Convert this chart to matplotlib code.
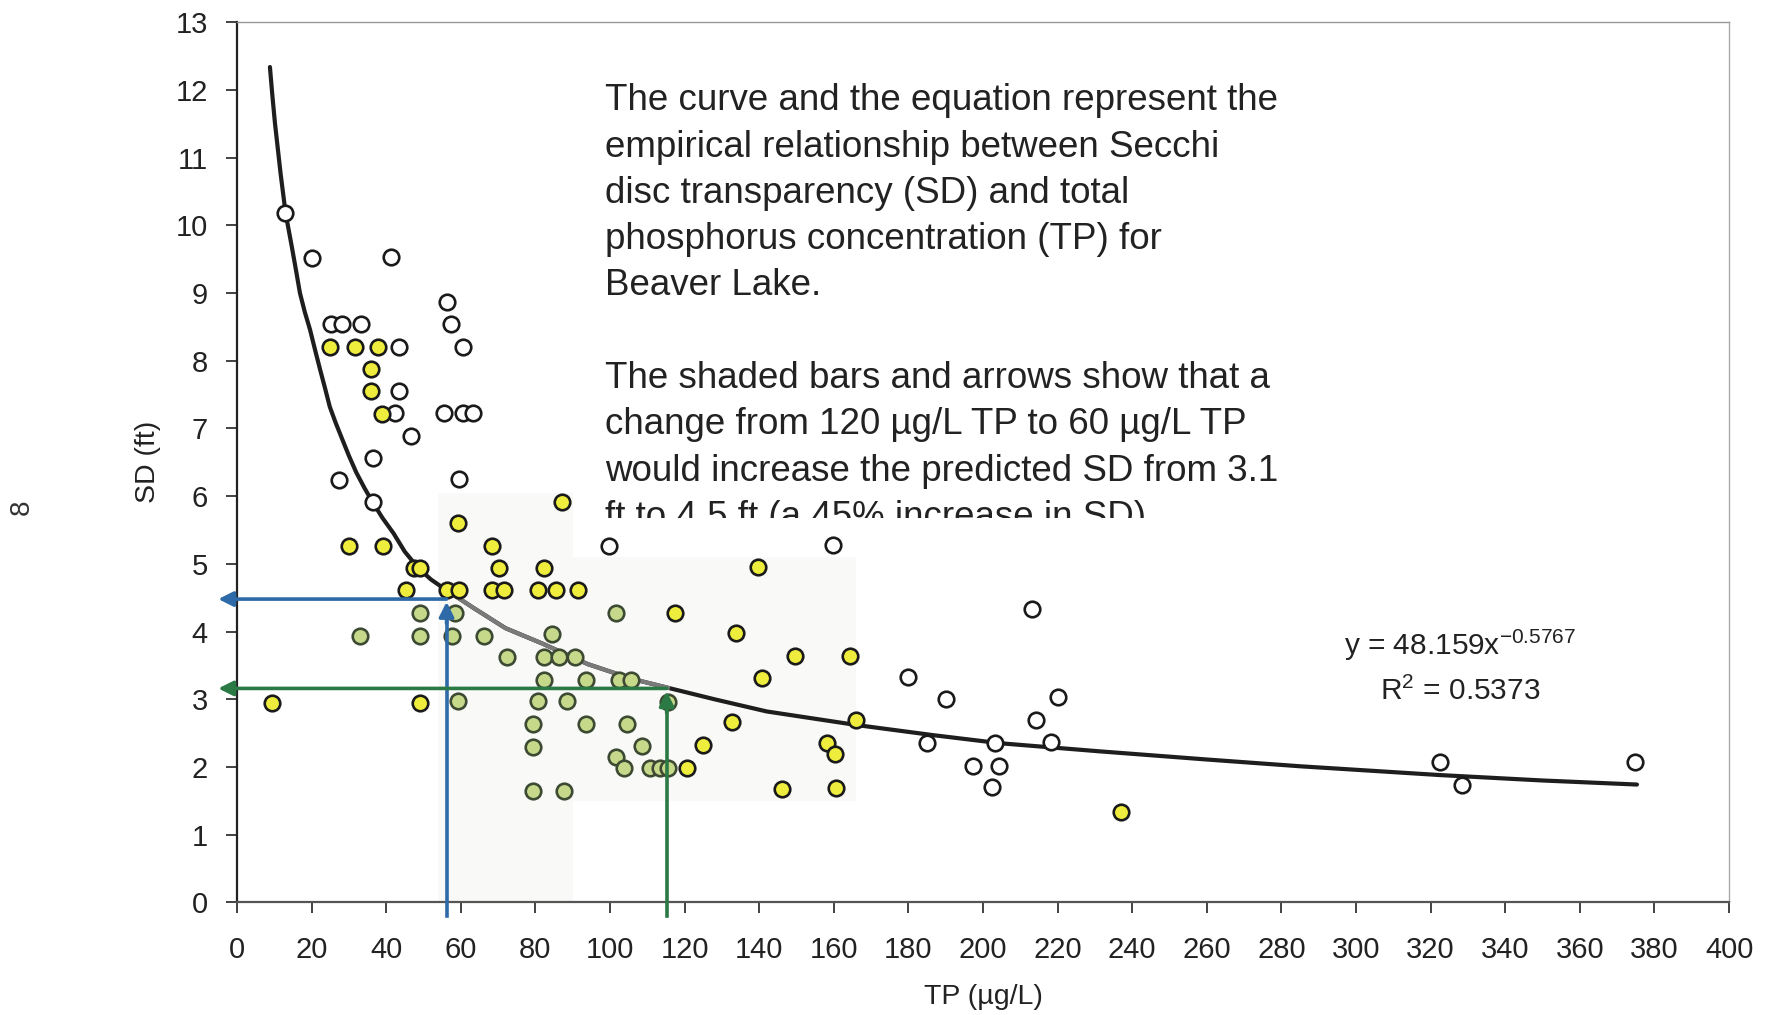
import numpy as np
import matplotlib.pyplot as plt
from matplotlib.patches import Rectangle

plt.rcParams['font.family'] = ['Liberation Sans', 'DejaVu Sans']

# open circles (white fill)
open_tp = [13.0, 20.1, 41.2, 56.2, 57.3, 25.2, 28.1, 33.2, 43.4, 60.5, 43.4, 42.4, 55.5, 60.5,
           63.4, 46.6, 36.4, 27.4, 59.5, 36.4, 99.7, 159.9, 180.0, 185.0, 213.0, 190.1, 220.2,
           214.1, 203.2, 218.2, 197.2, 204.3, 202.3, 322.5, 328.5, 374.8]
open_sd = [10.18, 9.52, 9.53, 8.87, 8.55, 8.55, 8.55, 8.55, 8.21, 8.21, 7.56, 7.23, 7.23, 7.23,
           7.23, 6.89, 6.57, 6.24, 6.25, 5.91, 5.27, 5.28, 3.33, 2.35, 4.34, 3.01, 3.03,
           2.69, 2.36, 2.37, 2.02, 2.02, 1.70, 2.07, 1.74, 2.07]

# yellow filled circles
yel_tp = [25.0, 31.6, 37.9, 35.9, 35.9, 39.0, 87.2, 59.3, 30.1, 39.1, 68.4, 47.5, 49.0, 70.3,
          82.4, 45.2, 56.2, 59.6, 68.5, 71.6, 80.8, 85.5, 91.5, 9.3, 49.1, 139.8, 117.4, 133.7,
          149.6, 164.3, 140.7, 132.8, 165.9, 124.9, 158.1, 160.2, 120.6, 146.0, 160.7, 236.9]
yel_sd = [8.21, 8.21, 8.21, 7.88, 7.55, 7.21, 5.92, 5.60, 5.26, 5.26, 5.27, 4.94, 4.94, 4.94,
          4.94, 4.61, 4.61, 4.61, 4.61, 4.61, 4.61, 4.61, 4.61, 2.95, 2.95, 4.96, 4.28, 3.98,
          3.64, 3.64, 3.31, 2.66, 2.70, 2.33, 2.35, 2.19, 1.98, 1.67, 1.69, 1.34]

# pale green circles (under the shaded bar)
grn_tp = [49.1, 58.4, 101.5, 33.0, 49.1, 57.7, 66.3, 84.5, 72.3, 82.3, 86.4, 90.6, 82.3, 93.5,
          102.4, 105.6, 59.2, 80.6, 88.6, 115.5, 79.4, 93.5, 104.6, 79.4, 108.7, 101.6, 103.8,
          110.7, 113.4, 115.5, 79.4, 87.7]
grn_sd = [4.27, 4.27, 4.28, 3.94, 3.94, 3.94, 3.94, 3.96, 3.62, 3.62, 3.62, 3.62, 3.29, 3.29,
          3.29, 3.29, 2.97, 2.97, 2.97, 2.96, 2.63, 2.63, 2.63, 2.30, 2.31, 2.15, 1.99,
          1.99, 1.99, 1.99, 1.65, 1.65]

# trend curve
curve_tp = [8.85, 9.5, 10.2, 11.7, 13.05, 14.7, 15.8, 16.9, 18.2, 19.6, 21.0, 22.3, 23.6, 24.9,
            26.5, 28.1, 30.0, 32.0, 34.2, 36.4, 39.0, 42.0, 45.0, 48.6, 52.0, 56.2, 63.4, 72.0,
            82.0, 94.0, 106.0, 115.5, 128.0, 142.0, 166.0, 186.6, 204.6, 231.4, 260.0, 285.0,
            322.5, 350.0, 375.3]
curve_sd = [12.34, 11.92, 11.51, 10.77, 10.18, 9.69, 9.35, 9.0, 8.72, 8.46, 8.15, 7.87, 7.6, 7.32,
            7.08, 6.86, 6.6, 6.35, 6.12, 5.91, 5.68, 5.45, 5.18, 4.94, 4.77, 4.61, 4.35, 4.05,
            3.82, 3.52, 3.30, 3.17, 3.0, 2.82, 2.62, 2.47, 2.35, 2.23, 2.11, 2.01,
            1.88, 1.80, 1.74]

# arrows: TP where the vertical rises, SD where the horizontal runs
arrow_tp = [56.2, 115.2]
arrow_sd = [4.48, 3.16]
arrow_col = ['#2f6aa8', '#2b7a45']

note = ["The curve and the equation represent the",
        "empirical relationship between Secchi",
        "disc transparency (SD) and total",
        "phosphorus concentration (TP) for",
        "Beaver Lake.",
        "",
        "The shaded bars and arrows show that a",
        "change from 120 \u00b5g/L TP to 60 \u00b5g/L TP",
        "would increase the predicted SD from 3.1",
        "ft to 4.5 ft (a 45% increase in SD)."]

fig = plt.figure(figsize=(17.68, 10.15), dpi=100)
ax = fig.add_axes([0.134, 0.111, 0.844, 0.867])
ax.set_xlim(0, 400)
ax.set_ylim(0, 13)

# faint shaded bars
ax.add_patch(Rectangle((54, 0), 36, 6.05, color='#f9f9f7', zorder=0, lw=0))
ax.add_patch(Rectangle((74, 1.5), 92, 3.6, color='#f9f9f7', zorder=0, lw=0))

ax.plot(curve_tp, curve_sd, color='#1e1e1e', lw=3.0, zorder=3, solid_capstyle='round',
        solid_joinstyle='round')
ctp = np.array(curve_tp)
csd = np.array(curve_sd)
m = (ctp >= 56.2) & (ctp <= 115.5)
ax.plot(ctp[m], csd[m], color='#7a7a7a', lw=3.0, zorder=3.1, solid_joinstyle='round')

ax.scatter(open_tp, open_sd, s=125, facecolor='white', edgecolor='#1a1a1a', lw=1.9, zorder=4)
ax.scatter(grn_tp, grn_sd, s=125, facecolor='#c6d98a', edgecolor='#3d4a33', lw=1.9, zorder=4)
ax.scatter(yel_tp, yel_sd, s=125, facecolor='#eeec3c', edgecolor='#1a1a1a', lw=1.9, zorder=4)

for tp, sd, c in zip(arrow_tp, arrow_sd, arrow_col):
    ax.plot([tp, tp], [-0.2, sd - 0.15], color=c, lw=2.6, zorder=5, clip_on=False)
    ax.annotate('', xy=(tp, sd), xytext=(tp, sd - 0.4),
                arrowprops=dict(arrowstyle='-|>', color=c, lw=2.6, mutation_scale=22),
                zorder=5, annotation_clip=False)
    ax.annotate('', xy=(-5, sd), xytext=(tp, sd),
                arrowprops=dict(arrowstyle='-|>', color=c, lw=2.6, mutation_scale=22,
                                shrinkA=0, shrinkB=0),
                zorder=5, annotation_clip=False)

# annotation text, last line cut off
for i, line in enumerate(note):
    ax.text(0.2466, 0.900 - i * 0.0526, line, transform=ax.transAxes, fontsize=26.5,
            color='#222222', va='baseline', ha='left', zorder=1)
ax.add_patch(Rectangle((0.24, 0.412), 0.6, 0.025, transform=ax.transAxes,
                       color='white', zorder=1.5, lw=0))

ax.text(0.8197, 0.281, 'y = 48.159x$^{\\mathregular{-0.5767}}$', transform=ax.transAxes,
        fontsize=21.5, ha='center', va='baseline', color='#222222')
ax.text(0.8197, 0.230, 'R$^{\\mathregular{2}}$ = 0.5373', transform=ax.transAxes,
        fontsize=21.5, ha='center', va='baseline', color='#222222')

ax.set_xticks(np.arange(0, 401, 20))
ax.set_yticks(np.arange(0, 14, 1))
ax.tick_params(axis='both', labelsize=21, colors='#222222', length=8, width=1.2, direction='out')
ax.tick_params(axis='x', pad=16)
ax.tick_params(axis='y', pad=13)

ax.spines['left'].set_color('#222222')
ax.spines['left'].set_linewidth(1.6)
ax.spines['bottom'].set_color('#555555')
ax.spines['bottom'].set_linewidth(1.6)
ax.spines['top'].set_color('#999999')
ax.spines['top'].set_linewidth(1.0)
ax.spines['right'].set_color('#aaaaaa')
ax.spines['right'].set_linewidth(1.0)

ax.set_xlabel('TP (\u00b5g/L)', fontsize=20.5, color='#222222')
ax.xaxis.set_label_coords(0.5, -0.0926)
ax.set_ylabel('SD (ft)', fontsize=20.5, color='#222222')
ax.yaxis.set_label_coords(-0.051, 0.5)

fig.text(0.0125, 0.50, '8', fontsize=20, rotation=90, ha='center', va='center', color='#333333')

fig.savefig('out.png', dpi=100)
